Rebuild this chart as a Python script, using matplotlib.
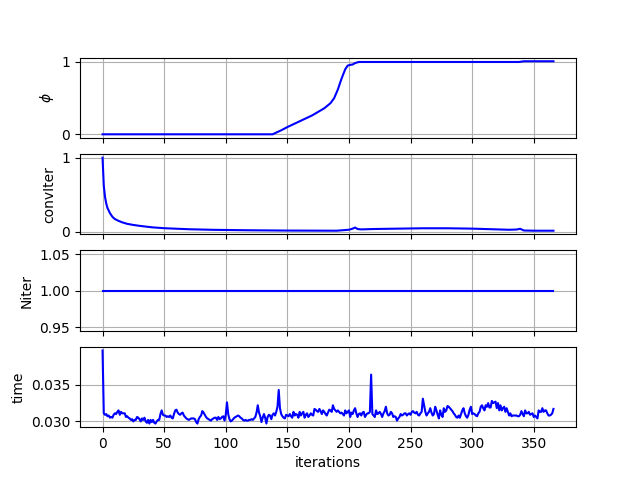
import numpy as np
import matplotlib
matplotlib.use("Agg")
import matplotlib.pyplot as plt

# phase field (read at a few knots, drawn as a polyline)
phi_x = [0, 138, 145, 150, 160, 170, 176, 180, 185, 188, 191, 194, 197, 199,
         201, 203, 205, 208, 210, 338, 342, 366]
phi_y = [0, 0, 0.055, 0.1, 0.18, 0.26, 0.32, 0.36, 0.43, 0.5, 0.62, 0.77, 0.9,
         0.95, 0.96, 0.965, 0.985, 1.0, 1.0, 1.0, 1.01, 1.01]

# convergence of the inner iteration
conv_x = [0, 1, 2, 3, 4, 6, 8, 10, 13, 16, 20, 25, 30, 40, 50, 70, 90, 120, 150,
          190, 196, 200, 203, 205, 207, 210, 220, 240, 260, 280, 300, 320, 330,
          336, 339, 342, 350, 366]
conv_y = [1.0, 0.62, 0.47, 0.38, 0.32, 0.25, 0.20, 0.17, 0.145, 0.125, 0.105,
          0.09, 0.078, 0.058, 0.046, 0.032, 0.024, 0.018, 0.014, 0.012, 0.02,
          0.025, 0.04, 0.055, 0.035, 0.03, 0.035, 0.04, 0.045, 0.045, 0.04,
          0.03, 0.025, 0.028, 0.038, 0.015, 0.012, 0.012]

# wall time per iteration
time_s = [
    0.0397, 0.0311, 0.0309, 0.0310, 0.0307, 0.0308, 0.0305, 0.0306, 0.0305, 0.0309,
    0.0311, 0.0310, 0.0313, 0.0315, 0.0309, 0.0313, 0.0311, 0.0311, 0.0311, 0.0306,
    0.0307, 0.0305, 0.0304, 0.0302, 0.0303, 0.0300, 0.0302, 0.0302, 0.0306, 0.0305,
    0.0303, 0.0300, 0.0304, 0.0302, 0.0305, 0.0300, 0.0298, 0.0302, 0.0297, 0.0302,
    0.0299, 0.0302, 0.0298, 0.0297, 0.0300, 0.0302, 0.0302, 0.0310, 0.0315, 0.0309,
    0.0308, 0.0308, 0.0306, 0.0307, 0.0306, 0.0308, 0.0305, 0.0304, 0.0310, 0.0315,
    0.0316, 0.0312, 0.0310, 0.0309, 0.0311, 0.0312, 0.0308, 0.0306, 0.0304, 0.0303,
    0.0302, 0.0303, 0.0304, 0.0304, 0.0304, 0.0303, 0.0299, 0.0297, 0.0303, 0.0306,
    0.0308, 0.0314, 0.0312, 0.0309, 0.0306, 0.0304, 0.0303, 0.0302, 0.0301, 0.0303,
    0.0304, 0.0305, 0.0305, 0.0302, 0.0306, 0.0303, 0.0304, 0.0306, 0.0307, 0.0301,
    0.0309, 0.0326, 0.0310, 0.0303, 0.0300, 0.0301, 0.0303, 0.0305, 0.0306, 0.0307,
    0.0308, 0.0307, 0.0305, 0.0304, 0.0302, 0.0301, 0.0302, 0.0301, 0.0301, 0.0302,
    0.0302, 0.0303, 0.0302, 0.0304, 0.0306, 0.0312, 0.0322, 0.0312, 0.0307, 0.0299,
    0.0305, 0.0310, 0.0305, 0.0297, 0.0306, 0.0309, 0.0308, 0.0303, 0.0309, 0.0311,
    0.0308, 0.0313, 0.0320, 0.0343, 0.0318, 0.0310, 0.0307, 0.0305, 0.0304, 0.0309,
    0.0308, 0.0307, 0.0310, 0.0307, 0.0305, 0.0313, 0.0308, 0.0310, 0.0309, 0.0305,
    0.0313, 0.0308, 0.0311, 0.0313, 0.0305, 0.0309, 0.0311, 0.0306, 0.0308, 0.0311,
    0.0309, 0.0308, 0.0317, 0.0316, 0.0314, 0.0313, 0.0317, 0.0314, 0.0310, 0.0315,
    0.0313, 0.0310, 0.0308, 0.0312, 0.0316, 0.0315, 0.0313, 0.0322, 0.0317, 0.0315,
    0.0313, 0.0315, 0.0313, 0.0311, 0.0312, 0.0310, 0.0308, 0.0315, 0.0311, 0.0313,
    0.0315, 0.0306, 0.0312, 0.0310, 0.0315, 0.0318, 0.0311, 0.0306, 0.0310, 0.0311,
    0.0308, 0.0312, 0.0313, 0.0306, 0.0309, 0.0311, 0.0311, 0.0313, 0.0364, 0.0310,
    0.0308, 0.0306, 0.0315, 0.0310, 0.0311, 0.0313, 0.0310, 0.0306, 0.0311, 0.0314,
    0.0320, 0.0311, 0.0308, 0.0309, 0.0313, 0.0311, 0.0306, 0.0307, 0.0306, 0.0301,
    0.0304, 0.0306, 0.0310, 0.0308, 0.0309, 0.0311, 0.0311, 0.0308, 0.0310, 0.0311,
    0.0309, 0.0313, 0.0314, 0.0312, 0.0311, 0.0313, 0.0309, 0.0308, 0.0311, 0.0313,
    0.0331, 0.0322, 0.0313, 0.0308, 0.0311, 0.0313, 0.0318, 0.0312, 0.0308, 0.0310,
    0.0320, 0.0315, 0.0309, 0.0304, 0.0315, 0.0309, 0.0306, 0.0318, 0.0313, 0.0315,
    0.0321, 0.0320, 0.0318, 0.0316, 0.0314, 0.0311, 0.0309, 0.0306, 0.0305, 0.0308,
    0.0305, 0.0310, 0.0315, 0.0318, 0.0311, 0.0307, 0.0305, 0.0309, 0.0316, 0.0320,
    0.0310, 0.0311, 0.0310, 0.0308, 0.0307, 0.0311, 0.0313, 0.0320, 0.0322, 0.0318,
    0.0315, 0.0322, 0.0320, 0.0325, 0.0319, 0.0319, 0.0328, 0.0325, 0.0326, 0.0327,
    0.0318, 0.0325, 0.0315, 0.0322, 0.0315, 0.0318, 0.0320, 0.0313, 0.0318, 0.0313,
    0.0308, 0.0311, 0.0307, 0.0308, 0.0308, 0.0308, 0.0308, 0.0307, 0.0307, 0.0309,
    0.0314, 0.0310, 0.0307, 0.0315, 0.0311, 0.0311, 0.0313, 0.0309, 0.0310, 0.0311,
    0.0306, 0.0308, 0.0306, 0.0304, 0.0315, 0.0313, 0.0313, 0.0318, 0.0313, 0.0315,
    0.0315, 0.0311, 0.0308, 0.0308, 0.0309, 0.0311, 0.0317,
]
iters = np.arange(len(time_s))
niter = [1] * len(time_s)

fig, axes = plt.subplots(4, 1, sharex=True, figsize=(6.4, 4.8), dpi=100)

axes[0].plot(phi_x, phi_y, "b")
axes[0].set_ylabel(r"$\phi$")
axes[0].set_yticks([0, 1])

axes[1].plot(conv_x, conv_y, "b")
axes[1].set_ylabel("convIter")
axes[1].set_yticks([0, 1])

axes[2].plot(iters, niter, "b")
axes[2].set_ylabel("Niter")
axes[2].set_yticks([0.95, 1.0, 1.05])

axes[3].plot(iters, time_s, "b")
axes[3].set_ylabel("time")
axes[3].set_yticks([0.030, 0.035])
axes[3].set_xlabel("iterations")

for ax in axes:
    ax.grid(True)

fig.savefig("out.png", dpi=100)
